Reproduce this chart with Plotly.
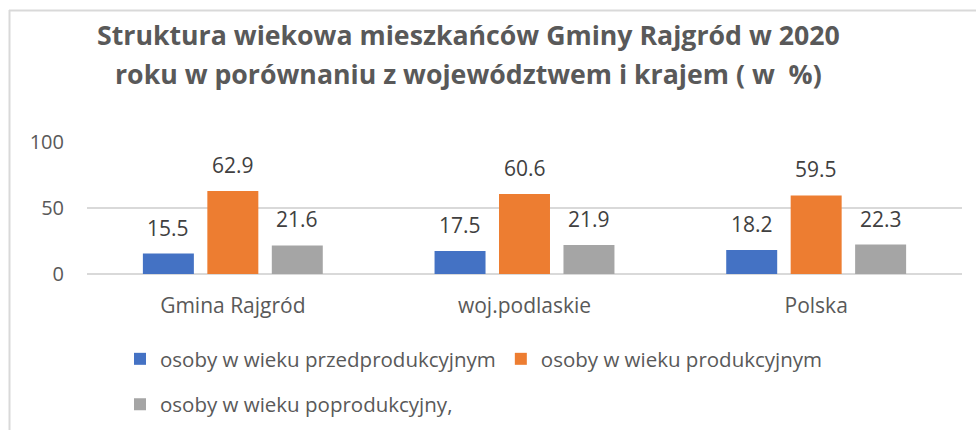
import plotly.graph_objects as go

categories = ["Gmina Rajgród", "woj.podlaskie", "Polska"]
series_names = ["osoby w wieku przedprodukcyjnym", "osoby w wieku produkcyjnym", "osoby w wieku poprodukcyjny,"]
pre_prod = [15.5, 17.5, 18.2]
prod = [62.9, 60.6, 59.5]
post_prod = [21.6, 21.9, 22.3]
y_ticks = [0, 50, 100]
title_line1 = "Struktura wiekowa mieszkańców Gminy Rajgród w 2020"
title_line2 = "roku w porównaniu z województwem i krajem ( w  %)"

colors = ["#4472C4", "#ED7D31", "#A5A5A5"]
FONT = "Open Sans"
W, H = 976, 430
L, R, T, B = 87, 14, 142, 156
PW, PH = W - L - R, H - T - B


def px_x(px):
    return (px - L) / PW


def px_y(py):
    return (H - B - py) / PH


fig = go.Figure()
all_series = [pre_prod, prod, post_prod]
legends = ["legend", "legend", "legend2"]
for name, vals, col, lg in zip(series_names, all_series, colors, legends):
    fig.add_trace(go.Bar(x=categories, y=vals, name=name, marker=dict(color=col, line=dict(width=0)),
                         legend=lg, hoverinfo="x+y+name"))

slot = 64.5
annotations = []
for i, vals in enumerate(all_series):
    for c, v in zip(categories, vals):
        annotations.append(dict(x=c, y=v, xref="x", yref="y", text=f"{v:.1f}", showarrow=False,
                                xshift=(i - 1) * slot, yanchor="bottom", yshift=10,
                                font=dict(family=FONT, size=21, color="#404040")))

for txt, cy in [(title_line1, 34.5), (title_line2, 73)]:
    annotations.append(dict(x=px_x(468.5), y=px_y(cy), xref="paper", yref="paper", text=f"<b>{txt}</b>",
                            showarrow=False, xanchor="center", yanchor="middle",
                            font=dict(family=FONT, size=26.7, color="#595959")))

shapes = [
    dict(type="line", xref="paper", yref="paper", x0=px_x(9), x1=px_x(976), y0=px_y(10.5), y1=px_y(10.5),
         line=dict(color="#D9D9D9", width=2)),
    dict(type="line", xref="paper", yref="paper", x0=px_x(9.5), x1=px_x(9.5), y0=px_y(10), y1=px_y(430),
         line=dict(color="#D9D9D9", width=2)),
]

legend_style = dict(orientation="h", xref="container", yref="container", xanchor="left", yanchor="middle",
                    font=dict(family=FONT, size=20.5, color="#595959"), itemclick=False,
                    bgcolor="rgba(0,0,0,0)", traceorder="normal", itemwidth=30)

fig.update_layout(
    width=W, height=H,
    margin=dict(l=L, r=R, t=T, b=B, pad=0, autoexpand=False),
    paper_bgcolor="white", plot_bgcolor="white",
    barmode="group", bargap=0.337, bargroupgap=0.209,
    font=dict(family=FONT, size=20, color="#595959"),
    showlegend=True,
    legend=dict(legend_style, x=120 / W, y=1 - 359 / H),
    legend2=dict(legend_style, x=120 / W, y=1 - 404.5 / H),
    xaxis=dict(showgrid=False, showline=False, ticks="", ticklabelstandoff=17, fixedrange=True,
               tickfont=dict(family=FONT, size=21, color="#595959")),
    yaxis=dict(range=[0, 100], tickvals=y_ticks, showgrid=True, gridcolor="#D9D9D9", gridwidth=1.5,
               zeroline=True, zerolinecolor="#D9D9D9", zerolinewidth=1.5, showline=False, ticks="",
               ticklabelstandoff=22, fixedrange=True,
               tickfont=dict(family=FONT, size=20, color="#595959")),
    annotations=annotations,
    shapes=shapes,
)

fig.write_html("out.html", config={"displayModeBar": False},
               post_script="document.body.style.margin='0';document.body.style.padding='0';")
